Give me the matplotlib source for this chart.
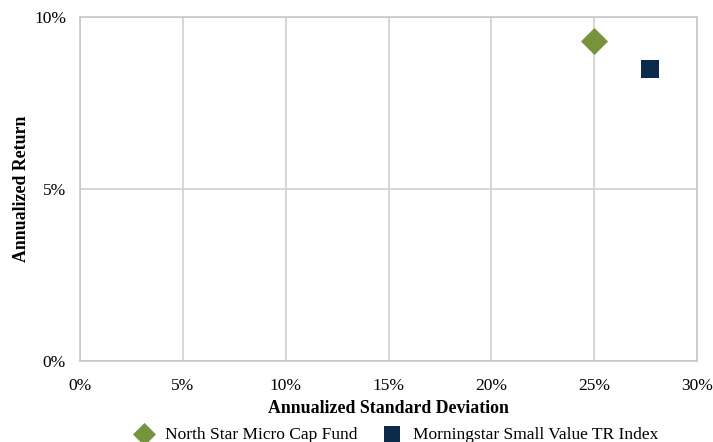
import matplotlib.pyplot as plt
from matplotlib.ticker import FuncFormatter

# data
names = ["North Star Micro Cap Fund", "Morningstar Small Value TR Index"]
std_dev = [25.0, 27.7]
returns = [9.3, 8.5]
markers = ["D", "s"]
sizes = [190, 180]
colors = ["#77933C", "#0C2A4A"]

plt.rcParams['font.family'] = ['Liberation Serif', 'DejaVu Serif']

fig = plt.figure(figsize=(7.13, 4.42), dpi=100)
ax = fig.add_axes([0.1122, 0.1833, 0.8654, 0.7782])

for n, x, y, m, sz, c in zip(names, std_dev, returns, markers, sizes, colors):
    ax.scatter(x, y, marker=m, s=sz, color=c, label=n, zorder=3, linewidths=0)

ax.set_xlim(0, 30)
ax.set_ylim(0, 10)
ax.set_xticks(range(0, 31, 5))
ax.set_yticks([0, 5, 10])
ax.xaxis.set_major_formatter(FuncFormatter(lambda v, p: f"{v:.0f}%"))
ax.yaxis.set_major_formatter(FuncFormatter(lambda v, p: f"{v:.0f}%"))
ax.grid(True, color="#D0D0D0", linewidth=1.2)
ax.set_axisbelow(True)
for s in ax.spines.values():
    s.set_color("#C8C8C8")
    s.set_linewidth(1.2)
ax.tick_params(length=0, labelsize=12.5)
ax.tick_params(axis="x", pad=12)
ax.tick_params(axis="y", pad=10)

ax.set_xlabel("Annualized Standard Deviation", fontsize=12.8, fontweight="bold")
ax.set_ylabel("Annualized Return", fontsize=12.8, fontweight="bold")
ax.xaxis.set_label_coords(0.5, -0.113)
ax.yaxis.set_label_coords(-0.081, 0.5)

ax.legend(loc="center", bbox_to_anchor=(0.506, -0.215), ncol=2, frameon=False,
          fontsize=12.5, handletextpad=0.2, columnspacing=1.0, borderaxespad=0,
          markerscale=0.85)

fig.savefig("out.png", dpi=100)
